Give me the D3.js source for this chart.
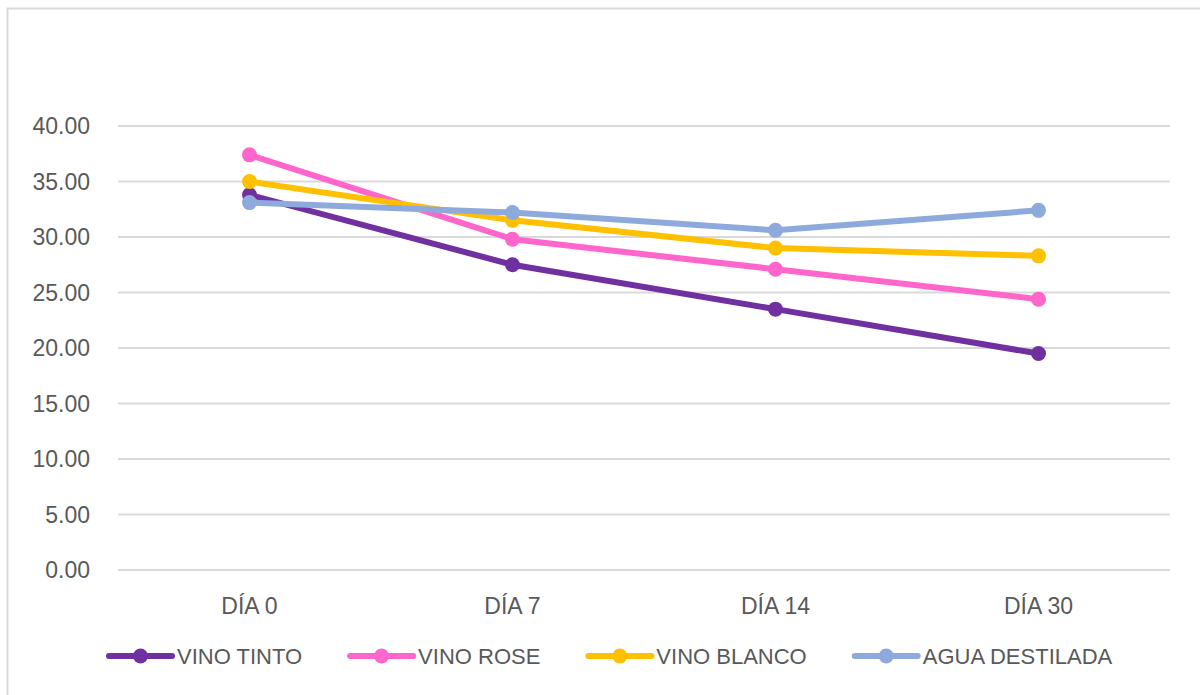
<!DOCTYPE html>
<html><head><meta charset="utf-8">
<script src="https://cdn.jsdelivr.net/npm/d3@7"></script>
<style>body{margin:0;background:#fff;}svg{display:block;}</style>
</head><body>
<svg id="c" width="1200" height="695"></svg>
<script>
const categories = ["DÍA 0", "DÍA 7", "DÍA 14", "DÍA 30"];
const seriesNames = ["VINO TINTO", "VINO ROSE", "VINO BLANCO", "AGUA DESTILADA"];
const vinoTinto = [33.8, 27.5, 23.5, 19.5];
const vinoRose = [37.4, 29.8, 27.1, 24.4];
const vinoBlanco = [35.0, 31.5, 29.0, 28.3];
const aguaDestilada = [33.1, 32.2, 30.6, 32.4];
const colors = ["#7030A0", "#FF66CC", "#FFC000", "#8EA9DB"];
const yTicks = [0, 5, 10, 15, 20, 25, 30, 35, 40];

(function () {
const series = [vinoTinto, vinoRose, vinoBlanco, aguaDestilada];
const svg = d3.select("#c");
const font = "'Liberation Sans', Arial, sans-serif";
const textColor = "#595959";

// outer border
svg.append("rect").attr("x", 7.5).attr("y", 8.5).attr("width", 1250).attr("height", 750)
  .attr("fill", "none").attr("stroke", "#d9d9d9").attr("stroke-width", 2);

const mLeft = 118, mRight = 1170, mTop = 126, mBottom = 570;
const x = d3.scaleBand().domain(categories).range([mLeft, mRight]);
const y = d3.scaleLinear().domain([0, 40]).range([mBottom, mTop]);

// gridlines
svg.append("g").selectAll("line").data(yTicks).join("line")
  .attr("x1", mLeft).attr("x2", mRight)
  .attr("y1", d => y(d)).attr("y2", d => y(d))
  .attr("stroke", "#d9d9d9").attr("stroke-width", 2);

// y labels
svg.append("g").selectAll("text").data(yTicks).join("text")
  .attr("x", 90).attr("y", d => y(d)).attr("dy", "0.35em")
  .attr("text-anchor", "end").attr("font-family", font).attr("font-size", 23)
  .attr("fill", textColor).text(d => d.toFixed(2));

// x labels
svg.append("g").selectAll("text").data(categories).join("text")
  .attr("x", d => x(d) + x.bandwidth() / 2).attr("y", 606).attr("dy", "0.35em")
  .attr("text-anchor", "middle").attr("font-family", font).attr("font-size", 23)
  .attr("fill", textColor).text(d => d);

const line = d3.line().x((d, i) => x(categories[i]) + x.bandwidth() / 2).y(d => y(d));

series.forEach((s, k) => {
  const g = svg.append("g");
  g.append("path").datum(s).attr("d", line).attr("fill", "none")
    .attr("stroke", colors[k]).attr("stroke-width", 6).attr("stroke-linejoin", "round").attr("stroke-linecap", "round");
  g.selectAll("circle").data(s).join("circle")
    .attr("cx", (d, i) => x(categories[i]) + x.bandwidth() / 2).attr("cy", d => y(d))
    .attr("r", 7.5).attr("fill", colors[k]);
});

// legend
const legendY = 656;
let lx = 109;
seriesNames.forEach((name, k) => {
  const g = svg.append("g");
  g.append("line").attr("x1", lx).attr("x2", lx + 63).attr("y1", legendY).attr("y2", legendY)
    .attr("stroke", colors[k]).attr("stroke-width", 6).attr("stroke-linecap", "round");
  g.append("circle").attr("cx", lx + 31.5).attr("cy", legendY).attr("r", 7.5).attr("fill", colors[k]);
  const t = g.append("text").attr("x", lx + 68).attr("y", legendY).attr("dy", "0.35em")
    .attr("font-family", font).attr("font-size", 22).attr("fill", textColor).text(name);
  const w = t.node().getComputedTextLength();
  lx = lx + 68 + w + 48;
});
})();
</script>
</body></html>
